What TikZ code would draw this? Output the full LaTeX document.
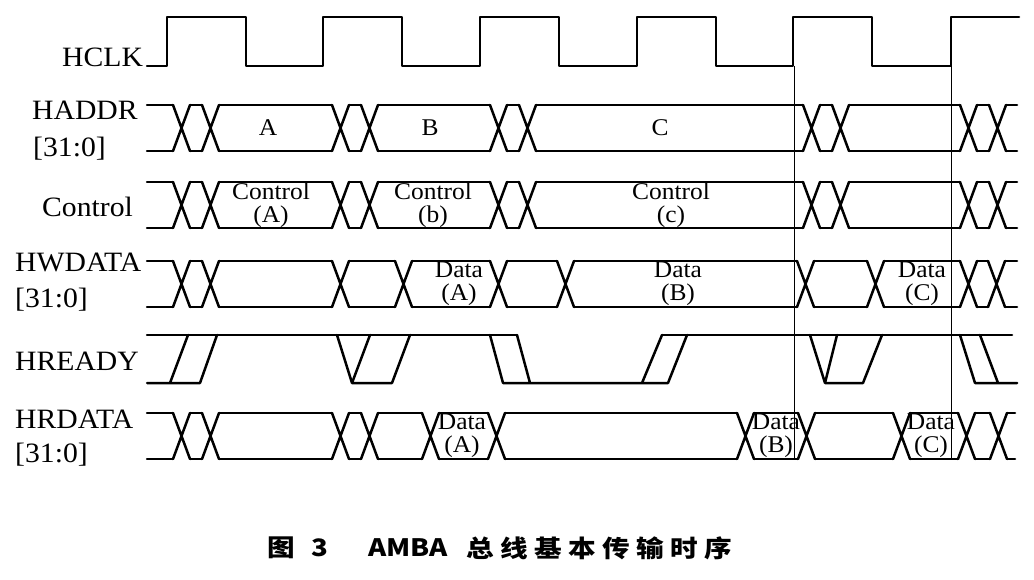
\documentclass[tikz,border=0pt]{standalone}
\usepackage{fontspec}
\setmainfont{Liberation Serif}[FakeStretch=1.06]
\newfontfamily\capfont{Noto Sans CJK SC}[FakeStretch=1.15]

\def\bh{23}  % half height of a bus row
\def\bw{17}  % width of one crossing
% bus row: #1 = centre, #2 = list of x/k (k=1 crossing, k=0 end of row)
\newcommand{\bus}[2]{%
  \foreach \x/\k [evaluate=\x as \xe using \x+\bw, remember=\xe as \lastx (initially 147)] in {#2} {
    \draw[sig] (\lastx,{#1-\bh}) -- (\x,{#1-\bh}) (\lastx,{#1+\bh}) -- (\x,{#1+\bh});
    \ifnum\k=1 \draw[sig] (\x,{#1-\bh}) -- (\xe,{#1+\bh}) (\x,{#1+\bh}) -- (\xe,{#1-\bh}); \fi
  }%
}

\begin{document}
\begin{tikzpicture}[x=1pt,y=-1pt]
      \tikzset{sig/.style={line width=2.5pt,line cap=round,line join=round}}
      \tikzset{guide/.style={line width=1pt}}
      \tikzset{lbl/.style={anchor=base west,inner sep=0pt,font=\fontsize{28}{28}\selectfont}}
      \tikzset{val/.style={align=center,inner sep=0pt,font=\fontsize{24}{23}\selectfont}}
      \tikzset{captext/.style={inner sep=0pt,font=\capfont\bfseries\fontsize{24}{24}\selectfont}}
      \useasboundingbox (0,0) rectangle (1034,580);

      % signal names
      \node[lbl] (hclk) at (62,67) {HCLK};
      \node[lbl] (haddr) at (32,120) {HADDR};
      \node[lbl] (haddrw) at (33,157) {[31:0]};
      \node[lbl] (ctrl) at (42,217) {Control};
      \node[lbl] (hwdata) at (15,272) {HWDATA};
      \node[lbl] (hwdataw) at (15,307) {[31:0]};
      \node[lbl] (hready) at (15,370) {HREADY};
      \node[lbl] (hrdata) at (15,428) {HRDATA};
      \node[lbl] (hrdataw) at (15,462) {[31:0]};

      % clock
      \draw[sig] (147,66) foreach \r in {167,323,480,637,793} {
        -- (\r,66) -- (\r,17) -- (\r+79,17) -- (\r+79,66) } -- (951,66) -- (951,17) -- (1019,17);
      \draw[guide] (794,66) -- (794,460);
      \draw[guide] (951,66) -- (951,460);

      % buses
      \bus{128}{173/1,202/1,332/1,361/1,490/1,519/1,803/1,832/1,960/1,989/1,1017/0}
      \bus{205}{173/1,202/1,332/1,361/1,490/1,519/1,803/1,832/1,960/1,989/1,1017/0}
      \bus{284}{173/1,202/1,332/1,395/1,490/1,557/1,797/1,867/1,960/1,988/1,1017/0}
      \bus{436}{173/1,202/1,332/1,361/1,422/1,488/1,737/1,798/1,893/1,958/1,990/1,1015/0}

      % HREADY
      \draw[sig] (147,335) -- (517,335) (662,335) -- (1012,335);
      \draw[sig] (147,383) -- (200,383) (170,383) -- (188,335) (200,383) -- (217,335);
      \draw[sig] (337,335) -- (352,383) -- (370,335) (352,383) -- (392,383) -- (410,335);
      \draw[sig] (490,335) -- (503,383) -- (668,383) -- (687,335) (517,335) -- (530,383) (642,383) -- (662,335);
      \draw[sig] (810,335) -- (825,383) -- (837,335) (825,383) -- (863,383) -- (882,335);
      \draw[sig] (960,335) -- (975,383) -- (1017,383) (980,335) -- (998,383);

      % values
      \node[val] (va) at (268,128) {A};
      \node[val] (vb) at (430,128) {B};
      \node[val] (vc) at (660,128) {C};
      \node[val] (ca) at (271,205) {Control\\(A)};
      \node[val] (cb) at (433,205) {Control\\(b)};
      \node[val] (cc) at (671,205) {Control\\(c)};
      \node[val] (wa) at (459,284) {Data\\(A)};
      \node[val] (wb) at (678,284) {Data\\(B)};
      \node[val] (wc) at (922,284) {Data\\(C)};
      \node[val] (ra) at (462,436) {Data\\(A)};
      \node[val] (rb) at (776,436) {Data\\(B)};
      \node[val] (rc) at (931,436) {Data\\(C)};

      % caption
      \node[captext] (fig) at (281,548) {图};
      \node[captext] (fignum) at (320,548) {3};
      \node[captext] (amba) at (408,548) {AMBA};
      \foreach \c [count=\i] in {总,线,基,本,传,输,时,序}
        \node[captext] (t\i) at ({446.5+34*\i},548) {\c};
\end{tikzpicture}
\end{document}
